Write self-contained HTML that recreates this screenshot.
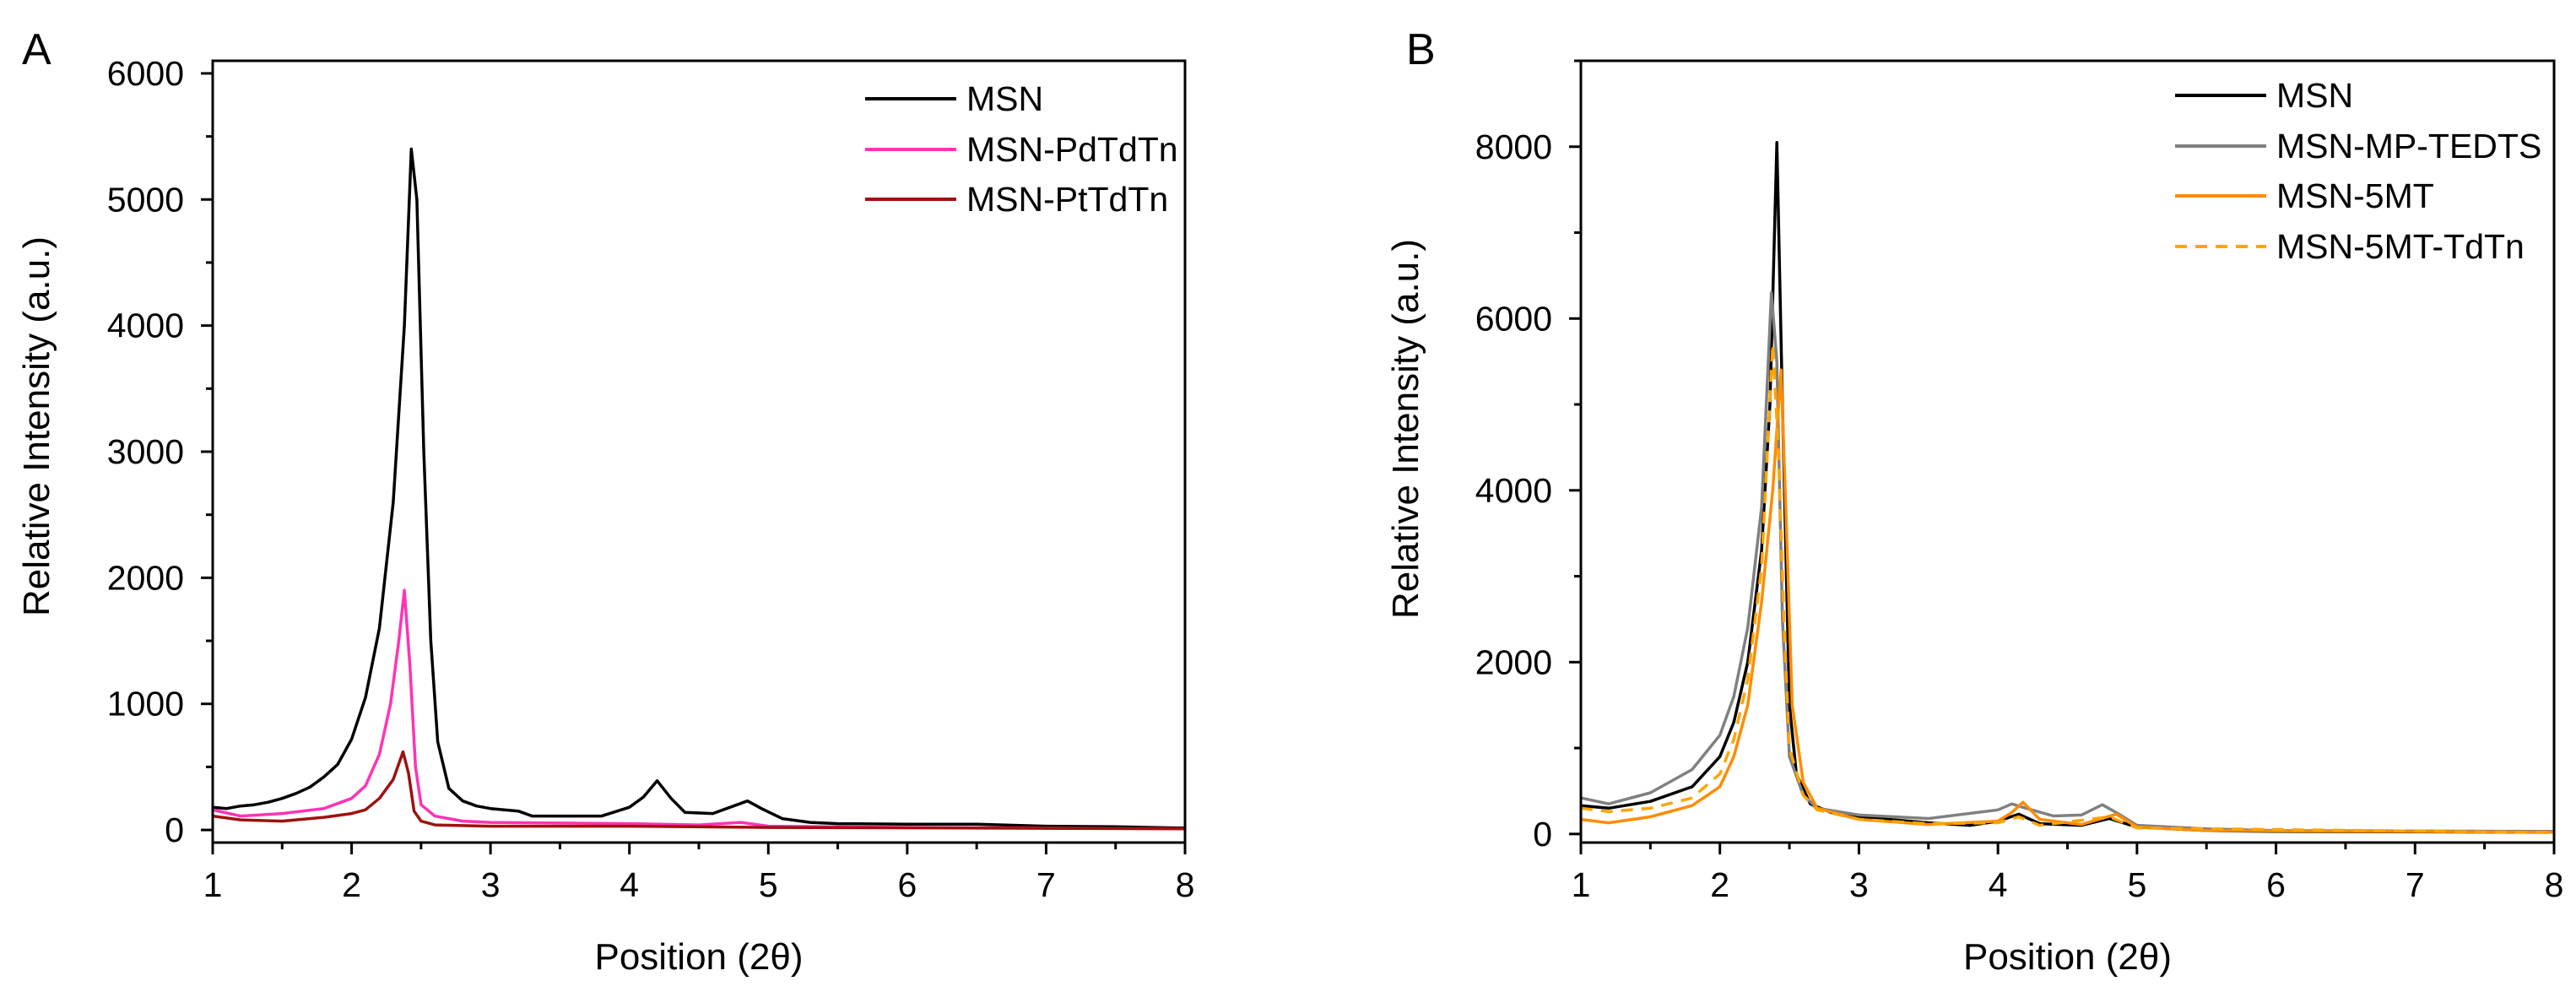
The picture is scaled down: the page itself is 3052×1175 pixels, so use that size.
<!DOCTYPE html>
<html><head><meta charset="utf-8"><style>
html,body{margin:0;padding:0;background:#fff}
svg{display:block;font-family:"Liberation Sans",Arial,sans-serif}
</style></head><body>
<svg id="fig" width="3052" height="1175" viewBox="0 0 3052 1175" xmlns="http://www.w3.org/2000/svg"></svg>
<script>
// Panel A data
const aMsnX=[1.0,1.1,1.2,1.3,1.4,1.5,1.6,1.7,1.8,1.9,2.0,2.1,2.2,2.3,2.38,2.43,2.47,2.52,2.57,2.62,2.7,2.8,2.9,3.0,3.2,3.3,3.5,3.8,4.0,4.1,4.2,4.3,4.4,4.6,4.75,4.85,4.95,5.1,5.3,5.5,6.0,6.5,7.0,7.5,8.0];
const aMsnY=[180,170,190,200,220,250,290,340,420,520,720,1050,1600,2600,4000,5400,5000,3000,1500,700,330,230,190,170,150,110,110,110,180,260,390,250,140,130,190,230,170,90,60,50,45,45,30,25,15];
const aPdX=[1.0,1.2,1.5,1.8,2.0,2.1,2.2,2.28,2.34,2.38,2.42,2.46,2.5,2.6,2.8,3.0,4.0,4.5,4.8,5.0,6.0,8.0];
const aPdY=[160,110,130,170,250,350,600,1000,1500,1900,1300,500,200,110,70,60,50,40,60,30,20,10];
const aPtX=[1.0,1.2,1.5,1.8,2.0,2.1,2.2,2.3,2.37,2.41,2.45,2.5,2.6,3.0,4.0,5.0,8.0];
const aPtY=[110,80,70,100,130,160,250,400,620,450,150,70,40,30,30,20,10];
// Panel B data
const bMsnX=[1.0,1.2,1.5,1.8,2.0,2.1,2.2,2.3,2.36,2.41,2.45,2.5,2.55,2.65,2.8,3.0,3.5,3.8,4.0,4.15,4.3,4.6,4.8,5.0,5.5,6.0,8.0];
const bMsnY=[330,300,380,550,900,1300,2000,3300,5000,8050,5000,1500,700,350,250,200,130,100,150,230,120,100,180,80,40,30,20];
const bMpX=[1.0,1.2,1.5,1.8,2.0,2.1,2.2,2.3,2.37,2.41,2.45,2.5,2.6,2.7,3.0,3.5,4.0,4.1,4.2,4.4,4.6,4.75,4.85,5.0,5.5,6.0,8.0];
const bMpY=[420,350,480,750,1150,1600,2400,3800,6300,5500,2500,900,450,300,220,180,280,350,300,210,220,340,250,100,60,40,30];
const b5mtX=[1.0,1.2,1.5,1.8,2.0,2.1,2.2,2.3,2.38,2.44,2.48,2.52,2.6,2.7,3.0,3.5,4.0,4.1,4.18,4.3,4.6,4.85,5.0,5.5,8.0];
const b5mtY=[170,130,200,330,550,900,1500,2700,4000,5400,3500,1500,600,300,170,110,150,250,370,170,110,230,80,40,20];
const bTdX=[1.0,1.2,1.5,1.8,2.0,2.1,2.2,2.3,2.38,2.42,2.46,2.5,2.6,2.7,3.0,3.5,4.0,4.15,4.3,4.8,5.0,8.0];
const bTdY=[300,260,300,420,700,1100,1800,3100,5700,4500,2500,1000,450,280,170,120,130,200,100,200,70,15];
const xTicks=[1,2,3,4,5,6,7,8];
const aYTicks=[0,1000,2000,3000,4000,5000,6000];
const bYTicks=[0,2000,4000,6000,8000];

const NS="http://www.w3.org/2000/svg";
const svg=document.getElementById('fig');
function el(tag,attrs,parent,text){const e=document.createElementNS(NS,tag);for(const k in attrs)e.setAttribute(k,attrs[k]);if(text!==undefined)e.textContent=text;(parent||svg).appendChild(e);return e;}

function panel(cfg){
  const g=el('g',{});
  
  
  const sx=v=>cfg.L+(v-1)/7*(cfg.R-cfg.L);
  const sy=v=>cfg.B-(v-cfg.ymin)/(cfg.ymax-cfg.ymin)*(cfg.B-cfg.T);
  // series
  cfg.series.forEach(s=>{
    let d='';
    for(let i=0;i<s.x.length;i++)d+=(i?'L':'M')+sx(s.x[i]).toFixed(1)+','+sy(s.y[i]).toFixed(1);
    const p=el('path',{d:d,fill:'none',stroke:s.color,'stroke-width':3.5,'stroke-linejoin':'round'},g);
    if(s.dash)p.setAttribute('stroke-dasharray','14,10');
    
    
  });
  // frame
  const fr=el('rect',{x:cfg.L,y:cfg.T,width:cfg.R-cfg.L,height:cfg.B-cfg.T,fill:'none',stroke:'#000','stroke-width':3},g);
  
  
  // x ticks
  for(let v=1;v<=8;v+=0.5){
    const maj=Number.isInteger(v);
    el('line',{x1:sx(v),x2:sx(v),y1:cfg.B,y2:cfg.B+(maj?14:8),stroke:'#000','stroke-width':3},g);
  }
  xTicks.forEach(v=>{
    const t=el('text',{x:sx(v),y:cfg.B+64,'font-size':41,'text-anchor':'middle'},g,String(v));
    
    
  });
  // y ticks
  const step=cfg.yTicks[1]-cfg.yTicks[0];
  for(let v=0;v<=cfg.ymax;v+=step/2){
    const maj=(v%step)===0;
    el('line',{x1:cfg.L,x2:cfg.L-(maj?14:8),y1:sy(v),y2:sy(v),stroke:'#000','stroke-width':3},g);
  }
  cfg.yTicks.forEach(v=>{
    const t=el('text',{x:cfg.L-34,y:sy(v)+14,'font-size':41,'text-anchor':'end'},g,String(v));
    
    
  });
  // titles
  const xt=el('text',{x:(cfg.L+cfg.R)/2,y:1148,'font-size':44,'text-anchor':'middle'},g,'Position (2θ)');
  
  
  const yt=el('text',{x:0,y:0,'font-size':44,'text-anchor':'middle',transform:`translate(${cfg.ytx},${cfg.yty}) rotate(-90)`},g,'Relative Intensity (a.u.)');
  
  
  const pl=el('text',{x:cfg.lx,y:cfg.ly,'font-size':52},g,cfg.label);
  
  
  // legend
  cfg.series.forEach((s,i)=>{
    const y=cfg.legY[i];
    const ln=el('line',{x1:cfg.legX1,x2:cfg.legX2,y1:y,y2:y,stroke:s.color,'stroke-width':4},g);
    if(s.dash)ln.setAttribute('stroke-dasharray','14,10');
    
    
    const t=el('text',{x:cfg.legX2+12,y:y+14,'font-size':41},g,s.label);
    
    
  });
}

panel({name:'panel-a',label:'A',lx:26,ly:76,L:252,R:1404,T:72,B:998,ymin:-100,ymax:6100,yTicks:aYTicks,
  ytx:58,yty:505,legX1:1025,legX2:1133,legY:[117,177,236],
  series:[
    {id:'msn',label:'MSN',color:'#000000',x:aMsnX,y:aMsnY},
    {id:'msn-pdtdtn',label:'MSN-PdTdTn',color:'#ff33b4',x:aPdX,y:aPdY},
    {id:'msn-pttdtn',label:'MSN-PtTdTn',color:'#a01010',x:aPtX,y:aPtY}
  ]});
panel({name:'panel-b',label:'B',lx:1666,ly:76,L:1873,R:3026,T:72,B:998,ymin:-100,ymax:9000,yTicks:bYTicks,
  ytx:1680,yty:508,legX1:2577,legX2:2685,legY:[113,173,232,292],
  series:[
    {id:'msn',label:'MSN',color:'#000000',x:bMsnX,y:bMsnY},
    {id:'msn-mp-tedts',label:'MSN-MP-TEDTS',color:'#808080',x:bMpX,y:bMpY},
    {id:'msn-5mt',label:'MSN-5MT',color:'#ff8c00',x:b5mtX,y:b5mtY},
    {id:'msn-5mt-tdtn',label:'MSN-5MT-TdTn',color:'#ffa500',dash:true,x:bTdX,y:bTdY}
  ]});
</script>
</body></html>
